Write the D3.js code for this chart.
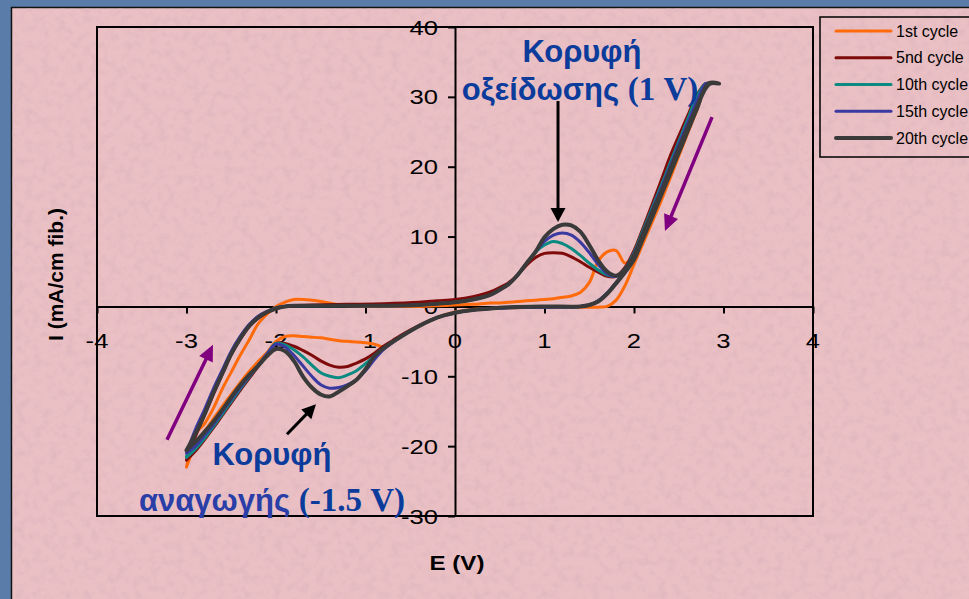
<!DOCTYPE html>
<html>
<head>
<meta charset="utf-8">
<script src="https://cdn.jsdelivr.net/npm/d3@7"></script>
<style>
  html, body { margin: 0; padding: 0; background: #5a7ca8; }
  svg { display: block; }
</style>
</head>
<body>
<svg id="chart" width="969" height="599"></svg>
<script>
// ---------------- DATA ----------------
const seriesNames = ["1st cycle", "5nd cycle", "10th cycle", "15th cycle", "20th cycle"];
const xTicks = [-4, -3, -2, -1, 0, 1, 2, 3, 4];
const yTicks = [-30, -20, -10, 0, 10, 20, 30, 40];

// Potential grid of the forward (anodic) scan, from -3 V up to the vertex
const fwdE = [-3.0, -2.9, -2.8, -2.7, -2.6, -2.5, -2.4, -2.3, -2.2, -2.1, -2.0, -1.9, -1.8, -1.6, -1.2, -0.8, -0.4, -0.2, 0.0, 0.2, 0.4, 0.5, 0.6, 0.7, 0.8, 0.9, 1.0, 1.1, 1.2, 1.3, 1.4, 1.5, 1.6, 1.7, 1.8, 1.9, 2.0, 2.1, 2.2, 2.3, 2.4, 2.5, 2.6, 2.7, 2.8, 2.85, 2.95];
// Potential grid of the reverse (cathodic) scan, from the vertex back to -3 V
const revE = [2.83, 2.7, 2.6, 2.5, 2.4, 2.3, 2.2, 2.1, 2.0, 1.9, 1.8, 1.7, 1.6, 1.5, 1.4, 1.0, 0.6, 0.4, 0.2, 0.0, -0.2, -0.4, -0.6, -0.7, -0.8, -0.9, -1.0, -1.1, -1.2, -1.3, -1.4, -1.5, -1.6, -1.7, -1.8, -1.9, -2.0, -2.1, -2.2, -2.3, -2.4, -2.5, -2.6, -2.7, -2.8, -2.9, -3.0];

// Current I (mA/cm fib.) — forward scans
const fwd1st  = [-23.0, -18.2, -16.8, -14.6, -11.8, -9.4, -7.0, -4.8, -2.5, -1.1, 0.0, 0.6, 1.0, 0.9, 0.1, 0.0, 0.0, 0.1, 0.2, 0.3, 0.5, 0.5, 0.6, 0.7, 0.8, 0.9, 1.0, 1.1, 1.3, 1.5, 2.0, 3.4, 6.5, 7.8, 8.0, 6.2, 7.4, 10.3, 13.3, 16.4, 19.5, 22.6, 25.7, 28.8, 31.6, 31.9, 31.9];
const fwd5th  = [-22.0, -18.6, -15.6, -12.6, -9.7, -6.9, -4.7, -2.9, -1.7, -0.9, -0.3, 0.0, 0.1, 0.2, 0.3, 0.4, 0.6, 0.8, 1.0, 1.4, 2.1, 2.7, 3.4, 4.5, 5.9, 7.0, 7.6, 7.7, 7.6, 7.1, 6.4, 5.6, 4.9, 4.3, 4.3, 5.6, 8.0, 11.2, 14.5, 17.9, 21.4, 24.4, 27.3, 30.2, 31.9, 31.9, 31.9];
const fwd10th = [-21.5, -18.0, -15.0, -12.0, -9.3, -6.6, -4.4, -2.7, -1.5, -0.8, -0.2, 0.0, 0.1, 0.1, 0.1, 0.1, 0.2, 0.4, 0.6, 1.0, 1.7, 2.4, 3.2, 4.5, 6.2, 7.8, 8.8, 9.3, 9.0, 8.3, 7.3, 6.2, 5.2, 4.5, 4.3, 5.4, 7.7, 10.9, 14.0, 17.2, 20.4, 23.6, 26.8, 30.0, 31.9, 31.9, 31.9];
const fwd15th = [-21.0, -17.6, -14.8, -11.8, -9.1, -6.4, -4.3, -2.6, -1.4, -0.7, -0.2, 0.0, 0.1, 0.1, 0.1, 0.1, 0.2, 0.4, 0.6, 1.0, 1.7, 2.4, 3.2, 4.5, 6.2, 7.8, 9.3, 10.2, 10.5, 10.2, 9.2, 7.7, 6.0, 4.7, 4.3, 5.3, 7.5, 10.6, 13.7, 16.8, 20.0, 23.2, 26.3, 29.3, 31.9, 31.9, 31.9];
const fwd20th = [-20.6, -18.2, -15.5, -12.4, -9.6, -6.8, -4.6, -2.8, -1.6, -0.8, -0.3, 0.0, 0.1, 0.1, 0.1, 0.1, 0.2, 0.4, 0.6, 1.0, 1.7, 2.4, 3.2, 4.5, 6.2, 7.8, 9.9, 11.1, 11.7, 11.6, 10.7, 8.8, 6.6, 5.0, 4.4, 5.3, 7.3, 10.4, 13.4, 16.3, 19.5, 22.6, 25.6, 28.5, 31.2, 31.9, 31.9];

// Current I (mA/cm fib.) — reverse scans
const rev1st  = [31.9, 28.0, 24.8, 21.5, 18.2, 15.0, 12.0, 9.0, 6.0, 3.0, 0.9, 0.0, -0.1, -0.1, -0.1, -0.1, -0.2, -0.3, -0.4, -0.8, -1.6, -2.8, -4.2, -5.1, -5.8, -5.4, -5.2, -5.1, -5.0, -4.9, -4.7, -4.5, -4.4, -4.3, -4.2, -4.3, -5.0, -6.6, -7.9, -9.3, -10.9, -12.6, -14.3, -16.1, -17.9, -19.8, -23.0];
const rev5th  = [31.9, 28.6, 25.4, 22.3, 19.2, 16.1, 13.0, 10.0, 7.0, 5.0, 3.4, 1.9, 0.8, 0.2, 0.0, -0.1, -0.2, -0.3, -0.5, -0.9, -1.6, -2.7, -4.1, -4.9, -5.7, -6.7, -7.5, -8.1, -8.6, -8.7, -8.4, -7.8, -7.0, -6.3, -5.7, -5.3, -5.3, -6.9, -8.6, -10.3, -12.0, -13.8, -15.6, -17.4, -19.1, -20.7, -22.0];
const rev10th = [31.9, 28.5, 25.3, 22.2, 19.1, 16.0, 12.9, 9.9, 6.9, 5.0, 3.4, 1.9, 0.8, 0.2, 0.0, -0.1, -0.2, -0.3, -0.5, -0.9, -1.6, -2.8, -4.3, -5.1, -6.0, -7.1, -8.2, -9.2, -9.8, -10.2, -10.0, -9.5, -8.4, -7.2, -6.2, -5.5, -5.3, -6.8, -8.5, -10.1, -11.8, -13.6, -15.4, -17.2, -18.9, -20.4, -21.6];
const rev15th = [31.9, 28.6, 25.4, 22.3, 19.2, 16.1, 13.0, 10.0, 7.0, 5.0, 3.4, 1.9, 0.8, 0.2, 0.0, -0.1, -0.2, -0.3, -0.5, -0.9, -1.6, -2.8, -4.3, -5.2, -6.2, -7.6, -9.2, -10.5, -11.2, -11.6, -11.7, -11.2, -10.0, -8.5, -7.0, -5.8, -5.4, -6.8, -8.4, -10.0, -11.6, -13.3, -15.1, -16.9, -18.5, -20.0, -21.0];
const rev20th = [31.9, 28.2, 25.1, 22.0, 18.9, 15.8, 12.7, 9.7, 6.7, 4.9, 3.3, 1.8, 0.7, 0.2, 0.0, 0.0, -0.1, -0.3, -0.5, -0.9, -1.6, -2.8, -4.3, -5.1, -6.0, -7.1, -9.0, -10.5, -11.4, -12.2, -12.9, -12.6, -11.6, -10.0, -7.8, -6.4, -6.1, -7.1, -8.5, -9.8, -11.3, -13.0, -14.8, -16.5, -18.0, -19.4, -20.6];

// ---------------- STYLE / LAYOUT ----------------
const colors = ["#ff6a0a", "#7e0a0a", "#0b8a82", "#3a3aa0", "#3a3a3a"];
const widths = [3, 3, 3, 3, 4];
const forwardSets = [fwd1st, fwd5th, fwd10th, fwd15th, fwd20th];
const reverseSets = [rev1st, rev5th, rev10th, rev15th, rev20th];

const W = 969, H = 599;
const svg = d3.select("#chart");

// texture filter
const defs = svg.append("defs");
const f = defs.append("filter").attr("id", "tex").attr("x", 0).attr("y", 0).attr("width", "100%").attr("height", "100%");
f.append("feTurbulence").attr("type", "fractalNoise").attr("baseFrequency", "0.12").attr("numOctaves", 3).attr("seed", 7).attr("result", "n");
f.append("feColorMatrix").attr("in", "n").attr("type", "matrix")
  .attr("values", "0 0 0 0 0.70  0 0 0 0 0.45  0 0 0 0 0.50  2.6 0 0 0 -1.15");

// blue slide frame + pink panel
svg.append("rect").attr("width", W).attr("height", H).attr("fill", "#5a7ca8");
svg.append("rect").attr("x", 11.5).attr("y", 7.5).attr("width", W).attr("height", H)
  .attr("fill", "#eac0c4").attr("stroke", "#111").attr("stroke-width", 1.5);
svg.append("rect").attr("x", 12).attr("y", 8).attr("width", W - 12).attr("height", H - 8)
  .attr("filter", "url(#tex)").attr("opacity", 0.55);

// scales
const x = d3.scaleLinear().domain([-4, 4]).range([97, 813]);
const y = d3.scaleLinear().domain([-30, 40]).range([516, 27]);

// plot frame
svg.append("rect").attr("x", x(-4)).attr("y", y(40)).attr("width", x(4) - x(-4)).attr("height", y(-30) - y(40))
  .attr("fill", "none").attr("stroke", "#000").attr("stroke-width", 2);

// axes crossing at the origin
const xAxis = svg.append("g").attr("transform", `translate(0,${y(0)})`)
  .call(d3.axisBottom(x).tickValues(xTicks).tickSize(7).tickSizeOuter(0).tickFormat(""));
const yAxis = svg.append("g").attr("transform", `translate(${x(0)},0)`)
  .call(d3.axisLeft(y).tickValues(yTicks).tickSize(7).tickSizeOuter(0).tickFormat(""));
[xAxis, yAxis].forEach(g => {
  g.selectAll("path, line").attr("stroke", "#000").attr("stroke-width", 2);
  g.selectAll("text").remove();
});

const tickFont = "'Liberation Sans', Arial, sans-serif";
svg.append("g").selectAll("text").data(xTicks).join("text")
  .attr("transform", d => `translate(${x(d)},${y(0) + 42}) scale(1.22,1)`)
  .attr("text-anchor", "middle").attr("font-family", tickFont).attr("font-size", 21).attr("fill", "#000")
  .text(d => d);
svg.append("g").selectAll("text").data(yTicks).join("text")
  .attr("transform", d => `translate(${x(0) - 17},${y(d) + 7.5}) scale(1.22,1)`)
  .attr("text-anchor", "end").attr("font-family", tickFont).attr("font-size", 21).attr("fill", "#000")
  .text(d => d);

// axis titles
svg.append("text").attr("transform", `translate(${x(0) + 2},570) scale(1.15,1)`)
  .attr("text-anchor", "middle").attr("font-family", tickFont).attr("font-weight", "bold").attr("font-size", 21)
  .text("E (V)");
svg.append("text").attr("transform", `translate(63,${(y(40) + y(-30)) / 2 + 3}) rotate(-90)`)
  .attr("text-anchor", "middle").attr("font-family", tickFont).attr("font-weight", "bold").attr("font-size", 21)
  .text("I (mA/cm fib.)");

// curves
const line = d3.line().x(d => x(d[0])).y(d => y(d[1])).curve(d3.curveCatmullRom.alpha(0.5));
const loops = seriesNames.map((name, k) => ({
  name,
  pts: fwdE.map((e, i) => [e, forwardSets[k][i]]).concat(revE.map((e, i) => [e, reverseSets[k][i]]))
}));
svg.append("g").selectAll("path").data(loops).join("path")
  .attr("d", d => line(d.pts))
  .attr("fill", "none")
  .attr("stroke", (d, k) => colors[k])
  .attr("stroke-width", (d, k) => widths[k])
  .attr("stroke-linejoin", "round").attr("stroke-linecap", "round");

// annotation arrows (positions in data units)
const arrows = [
  { from: [1.151, 29.4], to: [1.151, 12.1], color: "#000", w: 3, len: 14, half: 7.5 },
  { from: [-1.877, -18.3], to: [-1.553, -14.0], color: "#000", w: 3, len: 14, half: 7 },
  { from: [-3.218, -19.1], to: [-2.704, -5.5], color: "#800080", w: 3.5, len: 16, half: 7.5 },
  { from: [2.872, 27.1], to: [2.346, 10.8], color: "#800080", w: 3.5, len: 16, half: 7.5 }
];
const ag = svg.append("g");
arrows.forEach(a => {
  const x1 = x(a.from[0]), y1 = y(a.from[1]), x2 = x(a.to[0]), y2 = y(a.to[1]);
  const dx = x2 - x1, dy = y2 - y1, L = Math.hypot(dx, dy), ux = dx / L, uy = dy / L;
  const bx = x2 - ux * a.len, by = y2 - uy * a.len;
  ag.append("line").attr("x1", x1).attr("y1", y1).attr("x2", bx + ux * 2).attr("y2", by + uy * 2)
    .attr("stroke", a.color).attr("stroke-width", a.w);
  ag.append("path").attr("d", `M${x2},${y2}L${bx - uy * a.half},${by + ux * a.half}L${bx + uy * a.half},${by - ux * a.half}Z`)
    .attr("fill", a.color);
});

// annotation texts
const sans = "'Liberation Sans', Arial, sans-serif", serif = "'Liberation Serif', 'Times New Roman', serif";
const blue = "#0b3b9b";
function label(cx, by, parts) {
  const t = svg.append("text").attr("x", cx).attr("y", by).attr("text-anchor", "middle")
    .attr("font-weight", "bold").attr("font-size", 31);
  parts.forEach(p => t.append("tspan").attr("font-family", p.serif ? serif : sans)
    .attr("font-size", p.serif ? 33 : 31).attr("fill", p.color || blue).text(p.t));
}
label(582, 62, [{ t: "Κορυφή" }]);
label(580, 100, [{ t: "οξείδωσης " }, { t: "(1 V)", serif: true }]);
label(272, 465, [{ t: "Κορυφή" }]);
label(272, 511, [{ t: "αναγωγής ", color: "#2a3ea8" }, { t: "(-1.5 V)", serif: true }]);

// legend
const lg = svg.append("g");
lg.append("rect").attr("x", 820).attr("y", 17).attr("width", 200).attr("height", 140)
  .attr("fill", "none").attr("stroke", "#000").attr("stroke-width", 1.5);
const rowY = d3.scalePoint().domain(seriesNames).range([31, 138]);
const items = lg.selectAll("g.item").data(seriesNames).join("g").attr("class", "item")
  .attr("transform", d => `translate(0,${rowY(d)})`);
items.append("line").attr("x1", 836).attr("x2", 891).attr("stroke", (d, k) => colors[k])
  .attr("stroke-width", (d, k) => widths[k]).attr("stroke-linecap", "round");
items.append("text").attr("x", 896).attr("y", 5.5).attr("font-family", sans).attr("font-size", 16)
  .attr("fill", "#000").text(d => d);
</script>
</body>
</html>
